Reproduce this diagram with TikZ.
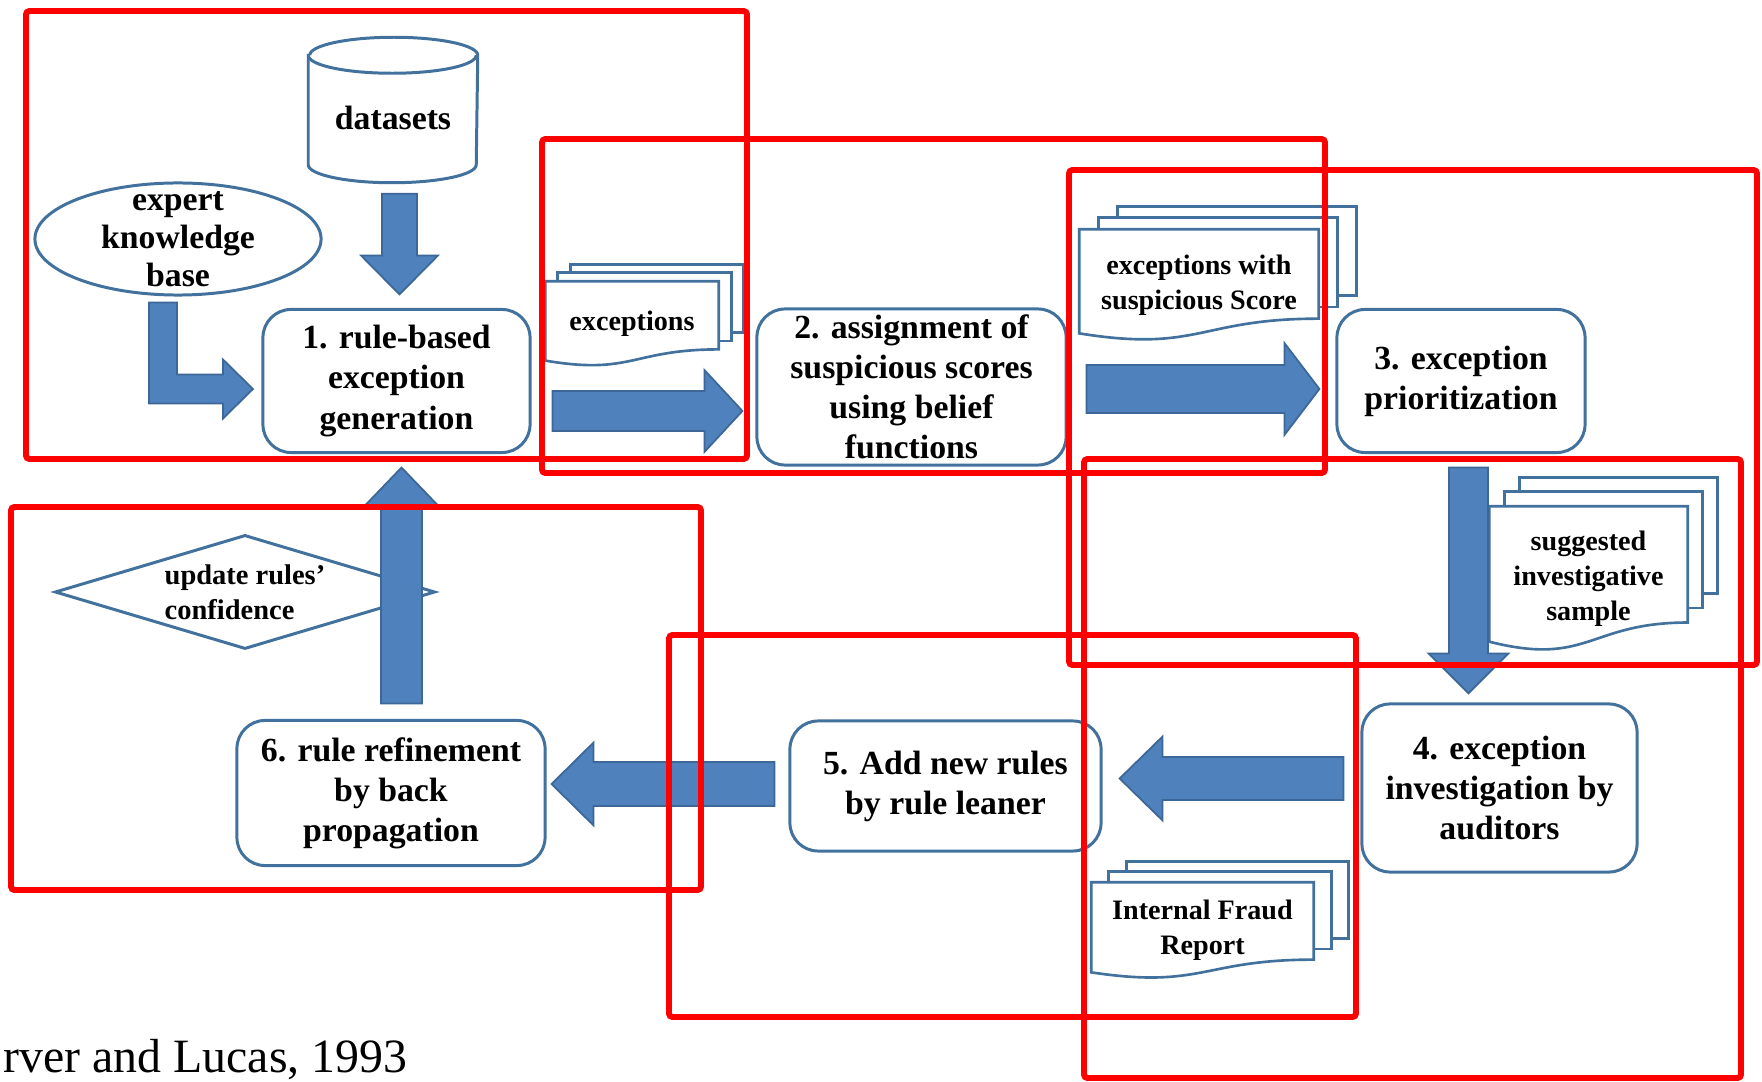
\documentclass[tikz,border=0pt]{standalone}
\usepackage{fontspec}
\setmainfont{Liberation Serif}
\usetikzlibrary{shapes.geometric,calc,backgrounds}

\definecolor{arrowblue}{HTML}{4F81BD}
\definecolor{edgeblue}{HTML}{3C6796}
\definecolor{lineblue}{HTML}{41719C}
\definecolor{markred}{HTML}{FF0000}

% stack of three pages behind a document node
\newcommand{\docstack}[3]{%
  \begin{scope}[on background layer]
    \foreach \k in {2,1}
      \draw[docline] ($(#1.north west)+\k*(#2,#3)$) rectangle ($(#1.north east)!0.802!(#1.south east)+\k*(#2,#3)$);
    \draw[docline] (#1.north west) -- (#1.north east)
      -- ($(#1.north east)!0.802!(#1.south east)$)
      .. controls ($(#1.north)!0.802!(#1.south)$) and ($(#1.north)!1.1075!(#1.south)$)
      .. ($(#1.north west)!0.934!(#1.south west)$) -- cycle;
  \end{scope}}

\begin{document}
\begin{tikzpicture}
  [x=0.01cm,y=-0.01cm,
   stage/.style={draw=lineblue,line width=0.85pt,rounded corners=8pt,fill=white,
     align=center,inner sep=0pt,font={\fontsize{9.6}{11.4}\selectfont\bfseries}},
   doc/.style={inner sep=0pt,align=center,font={\fontsize{8}{10}\selectfont\bfseries}},
   docline/.style={draw=lineblue,line width=0.75pt,fill=white},
   small/.style={align=center,font={\fontsize{9.6}{10.8}\selectfont\bfseries}},
   blockarrow/.style={fill=arrowblue,draw=edgeblue,line width=0.5pt},
   redbox/.style={draw=markred,line width=1.7pt,rounded corners=1pt},
   % shaft half width / head half width / head length, in px
   fat/.style n args={3}{to path={
     let \p1=(\tikztostart), \p2=(\tikztotarget),
         \n1={atan2(\y2-\y1,\x2-\x1)}, \n2={veclen(\x2-\x1,\y2-\y1)}
     in {[shift={(\p1)},rotate=\n1]
       (0pt,#1*0.2845274pt) -- (\n2-#3*0.2845274pt,#1*0.2845274pt)
       -- (\n2-#3*0.2845274pt,#2*0.2845274pt) -- (\n2,0pt)
       -- (\n2-#3*0.2845274pt,-#2*0.2845274pt) -- (\n2-#3*0.2845274pt,-#1*0.2845274pt)
       -- (0pt,-#1*0.2845274pt) -- cycle}}}]
  \useasboundingbox (0,0) rectangle (1762,1082);

  % inputs
  \node[minimum width=1.68cm,minimum height=1.44cm,inner sep=0pt,
        label={[small,yshift=-2.3pt]center:datasets}] (ds) at (393,110) {};
  \begin{scope}[on background layer]
    \draw[docline,line width=0.85pt] ($(ds.north west)+(0,18)$) -- ($(ds.south west)+(0,-18)$)
      arc[start angle=180,end angle=0,x radius=84,y radius=18]
      -- ($(ds.north east)+(0,18)$) arc[start angle=0,end angle=-180,x radius=84,y radius=18] -- cycle;
    \draw[docline,line width=0.85pt] ($(ds.north west)+(0,18)$) arc[start angle=180,end angle=0,x radius=84,y radius=18];
  \end{scope}
  \node[ellipse,draw=lineblue,line width=0.85pt,minimum width=2.86cm,minimum height=1.12cm,
        inner sep=0pt,label={[small]center:expert\\knowledge\\base}] (kb) at (178,239) {};
  \node[diamond,draw=lineblue,line width=0.85pt,minimum width=3.8cm,minimum height=1.14cm,
        inner sep=0pt,label={[align=left,font={\fontsize{8.1}{10}\selectfont\bfseries}]center:update rules’\\confidence}]
        (upd) at (245,592) {};

  % stages
  \node[stage,minimum width=2.67cm,minimum height=1.43cm] (b1) at (396.5,381) {1. rule-based\\exception\\generation};
  \node[stage,minimum width=3.09cm,minimum height=1.56cm] (b2) at (911.5,387) {2. assignment of\\suspicious scores\\using belief\\functions};
  \node[stage,minimum width=2.48cm,minimum height=1.43cm] (b3) at (1461,381) {3. exception\\prioritization};
  \node[stage,minimum width=2.75cm,minimum height=1.68cm] (b4) at (1499.5,788) {4. exception\\investigation by\\auditors};
  \node[stage,minimum width=3.11cm,minimum height=1.30cm] (b5) at (945.5,786) {5. Add new rules\\by rule leaner};
  \node[stage,minimum width=3.08cm,minimum height=1.45cm] (b6) at (391,793) {6. rule refinement\\by back\\propagation};

  % documents
  \node[doc,minimum width=1.72cm,minimum height=0.835cm] (exc) at (632,323.75) {exceptions};
  \node[doc,minimum width=2.38cm,minimum height=1.10cm] (score) at (1199,285) {exceptions with\\suspicious Score};
  \node[doc,minimum width=1.97cm,minimum height=1.435cm] (sample) at (1588.5,578.75) {suggested\\investigative\\sample};
  \node[doc,minimum width=2.21cm,minimum height=0.95cm] (fraud) at (1202.5,930.5) {Internal Fraud\\Report};
  \docstack{exc}{12.5}{-8.5}
  \docstack{score}{19}{-11.5}
  \docstack{sample}{15}{-14.5}
  \docstack{fraud}{17.5}{-10.5}

  \node[anchor=base east,inner sep=0pt,font={\fontsize{13.6}{16}\selectfont}] (src) at (408,1073) {rver and Lucas, 1993};

  % block arrows
  \draw[blockarrow,fat={17.5}{38.5}{39}] ([shift={(6.5,11)}]ds.south) to ([shift={(3,-13.5)}]b1.north);
  \draw[blockarrow] ([shift={(-29,6)}]kb.south) -- ++(28,0) -- ++(0,72) -- ++(46,0) -- ++(0,-15)
    -- ++(30,29.5) -- ++(-30,29.5) -- ++(0,-15) -- ++(-74,0) -- cycle;
  \draw[blockarrow,fat={20}{41}{38}] ([shift={(21,30)}]b1.east) to ([shift={(-13,24)}]b2.west);
  \draw[blockarrow,fat={24}{46}{35}] ([shift={(19,2)}]b2.east) to ([shift={(-16,8)}]b3.west);
  \draw[blockarrow,fat={19.5}{40}{40}] ([shift={(7.5,13.5)}]b3.south) to ([shift={(-31,-9)}]b4.north);
  \draw[blockarrow,fat={21.5}{42}{43}] ([shift={(-17,-9.5)}]b4.west) to ([shift={(17,-7.5)}]b5.east);
  \draw[blockarrow,fat={22}{41.5}{42}] ([shift={(-14,-2)}]b5.west) to ([shift={(5,-9)}]b6.east);
  \draw[blockarrow,fat={20.5}{37.5}{39}] ([shift={(10.5,-15.5)}]b6.north) to ([shift={(5,13.5)}]b1.south);

  % red frames
  \foreach \xa/\ya/\xb/\yb in {26/11/747/459,542/139/1325/473,1069/170/1757/665,
                               1084/459/1741/1078,669/635/1356/1017,11/507/701/890}
    \draw[redbox] (\xa,\ya) rectangle (\xb,\yb);
\end{tikzpicture}
\end{document}
